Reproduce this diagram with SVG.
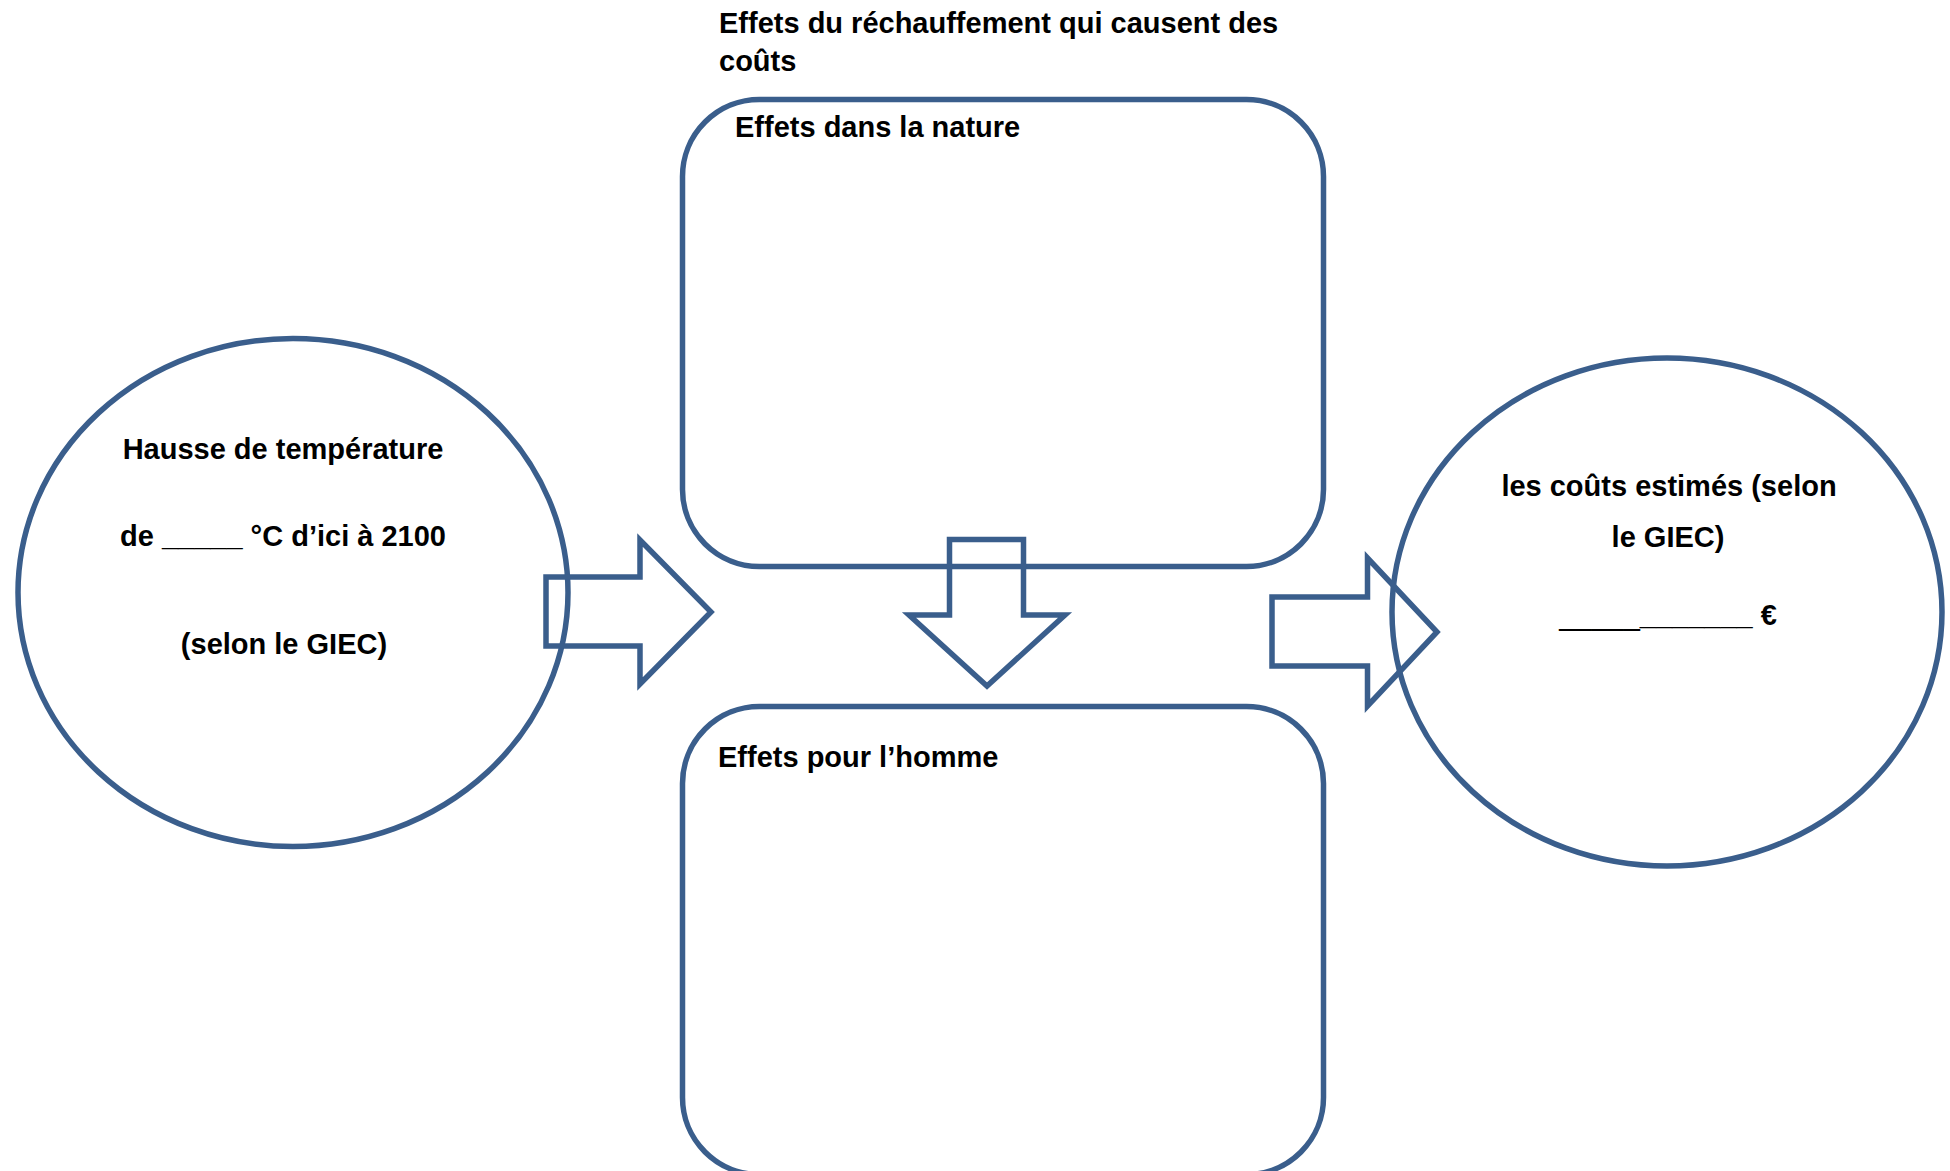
<svg xmlns="http://www.w3.org/2000/svg" width="1950" height="1171" viewBox="0 0 1950 1171">
<style>
.shape{fill:none;stroke:#3a5e8c;stroke-width:5.5;}
.t{font-family:"Liberation Sans",Arial,sans-serif;font-weight:bold;font-size:29px;fill:#000;}
.c{text-anchor:middle;}
.n{font-weight:normal;}
</style>
<rect width="1950" height="1171" fill="#fff"/>
<text class="t" x="719" y="33">Effets du réchauffement qui causent des</text>
<text class="t" x="719" y="71">coûts</text>
<g id="node-nature">
<rect class="shape" x="682.5" y="99.5" width="641" height="467" rx="77" ry="77"/>
<text class="t" x="735" y="137">Effets dans la nature</text>
</g>
<g id="node-homme">
<rect class="shape" x="682.5" y="706.5" width="641" height="468" rx="77" ry="77"/>
<text class="t" x="718" y="767">Effets pour l’homme</text>
</g>
<g id="node-temperature">
<ellipse class="shape" cx="293" cy="592.5" rx="275" ry="254"/>
<text class="t c" x="283" y="459">Hausse de température</text>
<text class="t c" x="283" y="546">de _____ °C d’ici à 2100</text>
<text class="t c" x="284" y="654">(selon le GIEC)</text>
</g>
<g id="node-couts">
<ellipse class="shape" cx="1667" cy="612" rx="275" ry="254"/>
<text class="t c" x="1669" y="496">les coûts estimés (selon</text>
<text class="t c" x="1668" y="547">le GIEC)</text>
<text class="t c" x="1668" y="625"><tspan class="n">_____</tspan>_______ €</text>
</g>
<g id="connectors">
<path class="shape" d="M546,577 H640 V540 L711,612 L640,684 V646 H546 Z"/>
<path class="shape" d="M949.5,539.5 H1023.5 V615 H1065 L987,686 L909,615 H949.5 Z"/>
<path class="shape" d="M1272,597 H1367.5 V558 L1437,632 L1367.5,706 V666 H1272 Z"/>
</g>
</svg>
